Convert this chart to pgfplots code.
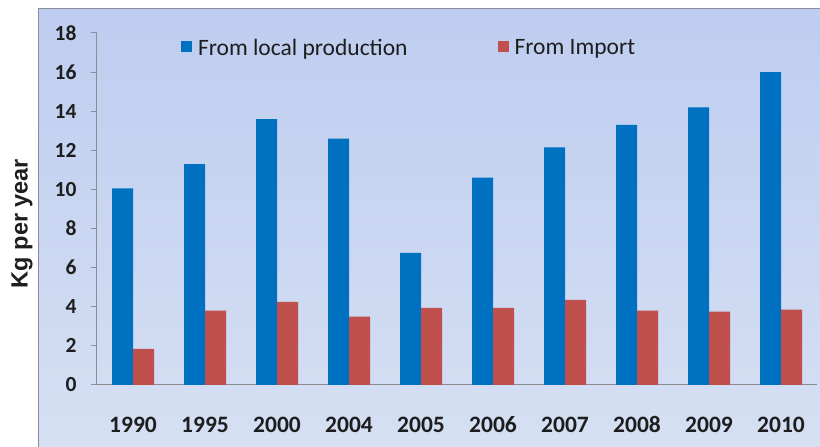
\documentclass[border=0pt]{standalone}
\usepackage{pgfplots}
\usepackage{pgfplotstable}
\pgfplotsset{compat=1.18}
\usepackage{fontspec}
\setmainfont{Carlito}
\newfontfamily\arialfont{Liberation Sans}

\definecolor{localblue}{RGB}{0,112,192}
\definecolor{importred}{RGB}{192,80,77}
\definecolor{bgtop}{RGB}{190,205,240}
\definecolor{bgbot}{RGB}{214,224,243}
\definecolor{axisgray}{RGB}{140,140,150}
\definecolor{txt}{RGB}{30,30,30}

% kg per year
\pgfplotstableread{
idx year local import
0 1990 10.05 1.85
1 1995 11.30 3.80
2 2000 13.60 4.25
3 2004 12.60 3.50
4 2005 6.75 3.95
5 2006 10.60 3.95
6 2007 12.15 4.35
7 2008 13.30 3.80
8 2009 14.20 3.75
9 2010 16.00 3.85
}\datatable

\begin{document}
\begin{tikzpicture}[x=1pt,y=1pt]
\path[use as bounding box] (0,0) rectangle (820,447);
\shade[top color=bgtop,bottom color=bgbot] (38,0) rectangle (820,438);
\draw[axisgray,line width=1pt] (38,0) -- (38,438) -- (820,438);
\node[rotate=90,text=txt,font=\arialfont\bfseries\fontsize{23.5}{28}\selectfont] at (22,223.5) {Kg per year};
\begin{axis}[
    at={(97pt,62pt)}, anchor=south west,
    scale only axis, width=720pt, height=352pt,
    ybar=0pt, bar width=21pt,
    xmin=-0.5, xmax=9.5, ymin=0, ymax=18,
    ytick={0,2,...,18},
    xtick={0,...,9},
    xticklabels={1990,1995,2000,2004,2005,2006,2007,2008,2009,2010},
    minor xtick={-0.5,0.5,...,9.5},
    axis x line*=bottom, axis y line*=left,
    axis line style={axisgray, line width=1pt},
    tick align=outside,
    major tick length=6pt, minor tick length=6pt,
    xtick style={draw=none},
    minor tick style={axisgray, line width=1pt},
    ytick style={axisgray, line width=1pt},
    /pgf/number format/assume math mode=true,
    xticklabel style={font=\bfseries\fontsize{23.5}{27}\selectfont, text=txt, anchor=base, yshift=-42pt},
    yticklabel style={font=\bfseries\fontsize{21.5}{24}\selectfont, text=txt, xshift=-11pt},
    legend columns=2,
    legend style={draw=none, fill=none, inner sep=0pt, outer sep=0pt,
        at={(0.1167,0.957)}, anchor=west,
        font=\fontsize{23.5}{27}\selectfont, text=txt,
        nodes={inner sep=0pt},
        /tikz/every odd column/.append style={column sep=6pt},
        /tikz/every even column/.append style={column sep=90pt}},
    legend image code/.code={\fill[#1,draw=none] (0pt,-4pt) rectangle (11pt,7pt);},
]
\addplot[fill=localblue, draw=none] table[x=idx, y=local] {\datatable};
\addplot[fill=importred, draw=none] table[x=idx, y=import] {\datatable};
\legend{From local production, From Import}
\end{axis}
\end{tikzpicture}
\end{document}
